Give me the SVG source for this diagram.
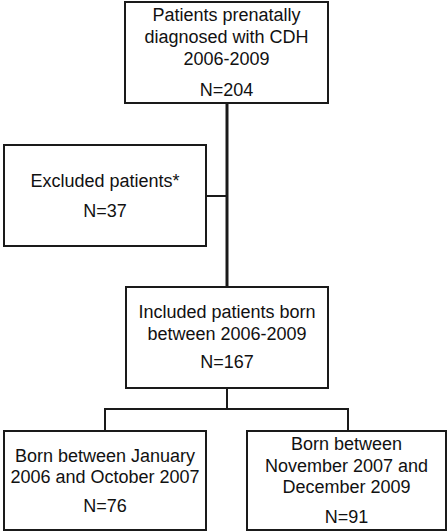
<svg xmlns="http://www.w3.org/2000/svg" width="448" height="532" viewBox="0 0 448 532">
<style>
.box{fill:#fff;stroke:#1a1a1a;stroke-width:2}
.t{font-family:"Liberation Sans",Arial,sans-serif;font-size:18px;fill:#111;text-anchor:middle}
.c{fill:none;stroke:#1a1a1a;stroke-width:2}
.main{fill:none;stroke:#1a1a1a;stroke-width:3}
</style>
<rect width="448" height="532" fill="#fff"/>
<g id="connectors">
<line class="main" x1="227" y1="103" x2="227" y2="287"/>
<line class="c" x1="206" y1="196" x2="227" y2="196"/>
<line class="c" x1="227" y1="388" x2="227" y2="409"/>
<polyline class="c" points="105,431 105,409 348,409 348,431"/>
</g>
<g id="n1">
<rect class="box" x="125" y="2" width="203" height="101"/>
<text class="t" x="226.5" y="21">Patients prenatally</text>
<text class="t" x="226.5" y="43">diagnosed with CDH</text>
<text class="t" x="226.5" y="65">2006-2009</text>
<text class="t" x="226.5" y="96">N=204</text>
</g>
<g id="n2">
<rect class="box" x="4" y="145" width="202" height="101"/>
<text class="t" x="105" y="187">Excluded patients*</text>
<text class="t" x="105" y="217">N=37</text>
</g>
<g id="n3">
<rect class="box" x="126" y="287" width="202" height="101"/>
<text class="t" x="227" y="318">Included patients born</text>
<text class="t" x="227" y="340">between 2006-2009</text>
<text class="t" x="227" y="368">N=167</text>
</g>
<g id="n4">
<rect class="box" x="4" y="431" width="202" height="99"/>
<text class="t" x="105" y="462">Born between January</text>
<text class="t" x="105" y="483">2006 and October 2007</text>
<text class="t" x="105" y="512">N=76</text>
</g>
<g id="n5">
<rect class="box" x="247" y="431" width="199" height="99"/>
<text class="t" x="346.5" y="450">Born between</text>
<text class="t" x="346.5" y="472">November 2007 and</text>
<text class="t" x="346.5" y="493">December 2009</text>
<text class="t" x="346.5" y="523">N=91</text>
</g>
</svg>
